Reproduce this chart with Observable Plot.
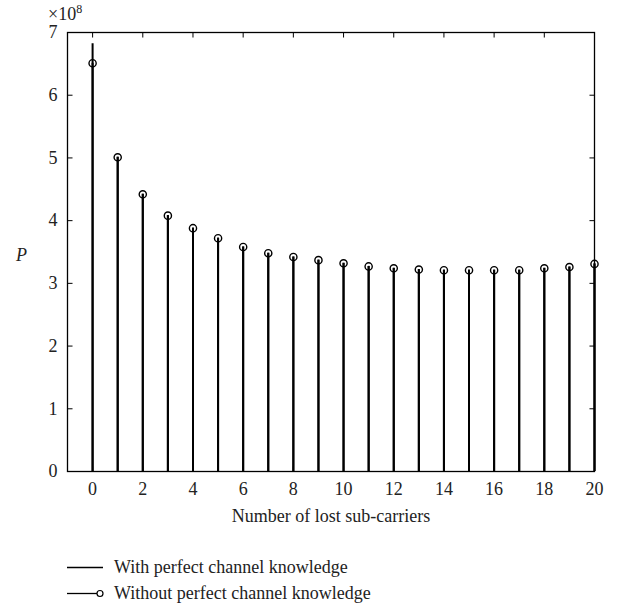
<!DOCTYPE html>
<html>
<head>
<meta charset="utf-8">
<script src="https://cdn.jsdelivr.net/npm/d3@7"></script>
<script src="https://cdn.jsdelivr.net/npm/@observablehq/plot@0.6"></script>
<style>
  body { margin: 0; background: #fff; }
  #wrap { position: relative; width: 627px; height: 611px; font-family: "Liberation Serif", "DejaVu Serif", serif; color: #222; }
  #wrap svg { position: absolute; left: 0; top: 0; }
  .ov { position: absolute; font-size: 18px; white-space: nowrap; line-height: 1; }
</style>
</head>
<body>
<div id="wrap"></div>
<script>
// Data (values in units of 1e8)
const subcarriers = [0,1,2,3,4,5,6,7,8,9,10,11,12,13,14,15,16,17,18,19,20];
const withPerfect = [6.82,5.01,4.42,4.08,3.88,3.72,3.58,3.48,3.42,3.37,3.32,3.27,3.24,3.22,3.21,3.21,3.21,3.21,3.24,3.26,3.31];
const withoutPerfect = [6.51,5.01,4.42,4.08,3.88,3.72,3.58,3.48,3.42,3.37,3.32,3.27,3.24,3.22,3.21,3.21,3.21,3.21,3.24,3.26,3.31];
const xTicks = [0,2,4,6,8,10,12,14,16,18,20];
const yTicks = [0,1,2,3,4,5,6,7];
const xDomain = [-1, 20];
const yDomain = [0, 7];
const legendLabels = ["With perfect channel knowledge", "Without perfect channel knowledge"];

const rowsWith = subcarriers.map((x, i) => ({x, y: withPerfect[i]}));
const rowsWithout = subcarriers.map((x, i) => ({x, y: withoutPerfect[i]}));

const tx = 0.2, ty = 0.08; // inward tick lengths in data units
const chart = Plot.plot({
  width: 627,
  height: 540,
  marginLeft: 67,
  marginRight: 33,
  marginTop: 32,
  marginBottom: 69,
  style: {fontFamily: '"Liberation Serif", "DejaVu Serif", serif', fontSize: "18px", color: "#222", background: "transparent"},
  x: {domain: xDomain},
  y: {domain: yDomain},
  marks: [
    Plot.ruleX(rowsWith, {x: "x", y1: 0, y2: "y", stroke: "black", strokeWidth: 2}),
    Plot.ruleX(rowsWithout, {x: "x", y1: 0, y2: "y", stroke: "black", strokeWidth: 2}),
    Plot.dot(rowsWithout, {x: "x", y: "y", r: 3.6, stroke: "black", strokeWidth: 1.4, fill: "none"}),
    // inward ticks
    Plot.link(yTicks, {x1: xDomain[0], x2: xDomain[0] + tx, y1: d => d, y2: d => d, stroke: "black", strokeWidth: 1}),
    Plot.link(yTicks, {x1: xDomain[1], x2: xDomain[1] - tx, y1: d => d, y2: d => d, stroke: "black", strokeWidth: 1}),
    Plot.link(xTicks, {x1: d => d, x2: d => d, y1: yDomain[1], y2: yDomain[1] - ty, stroke: "black", strokeWidth: 1}),
    Plot.link(xTicks, {x1: d => d, x2: d => d, y1: yDomain[0], y2: yDomain[0] + ty, stroke: "black", strokeWidth: 1}),
    Plot.frame({stroke: "black", strokeWidth: 1.3}),
    Plot.axisX({ticks: xTicks, tickFormat: d3.format("d"), tickSize: 0, tickPadding: 11, label: "Number of lost sub-carriers", labelAnchor: "center", labelArrow: "none", labelOffset: 50, fontSize: 18, fill: "#222"}),
    Plot.axisY({ticks: yTicks, tickFormat: d3.format("d"), tickSize: 0, tickPadding: 10, label: null, fontSize: 18, fill: "#222"})
  ]
});
const wrap = document.getElementById("wrap");
wrap.appendChild(chart);

function ov(html, left, top, extra) {
  const d = document.createElement("div");
  d.className = "ov";
  d.innerHTML = html;
  d.style.left = left + "px";
  d.style.top = top + "px";
  if (extra) d.style.cssText += extra;
  wrap.appendChild(d);
  return d;
}
ov('×10<sup style="font-size:12px;vertical-align:7px">8</sup>', 48, 3);
ov('P', 16, 246, 'font-style:italic;');

// legend
const leg = document.createElementNS("http://www.w3.org/2000/svg", "svg");
leg.setAttribute("width", 627); leg.setAttribute("height", 611);
leg.style.position = "absolute"; leg.style.left = "0"; leg.style.top = "0"; leg.style.pointerEvents = "none";
leg.innerHTML = `
  <line x1="67" x2="103" y1="567.5" y2="567.5" stroke="black" stroke-width="1.3"/>
  <line x1="67" x2="97" y1="593.5" y2="593.5" stroke="black" stroke-width="1.3"/>
  <circle cx="100" cy="593.5" r="3" fill="none" stroke="black" stroke-width="1.2"/>`;
wrap.appendChild(leg);
ov(legendLabels[0], 114, 558);
ov(legendLabels[1], 114, 584);
</script>
</body>
</html>
